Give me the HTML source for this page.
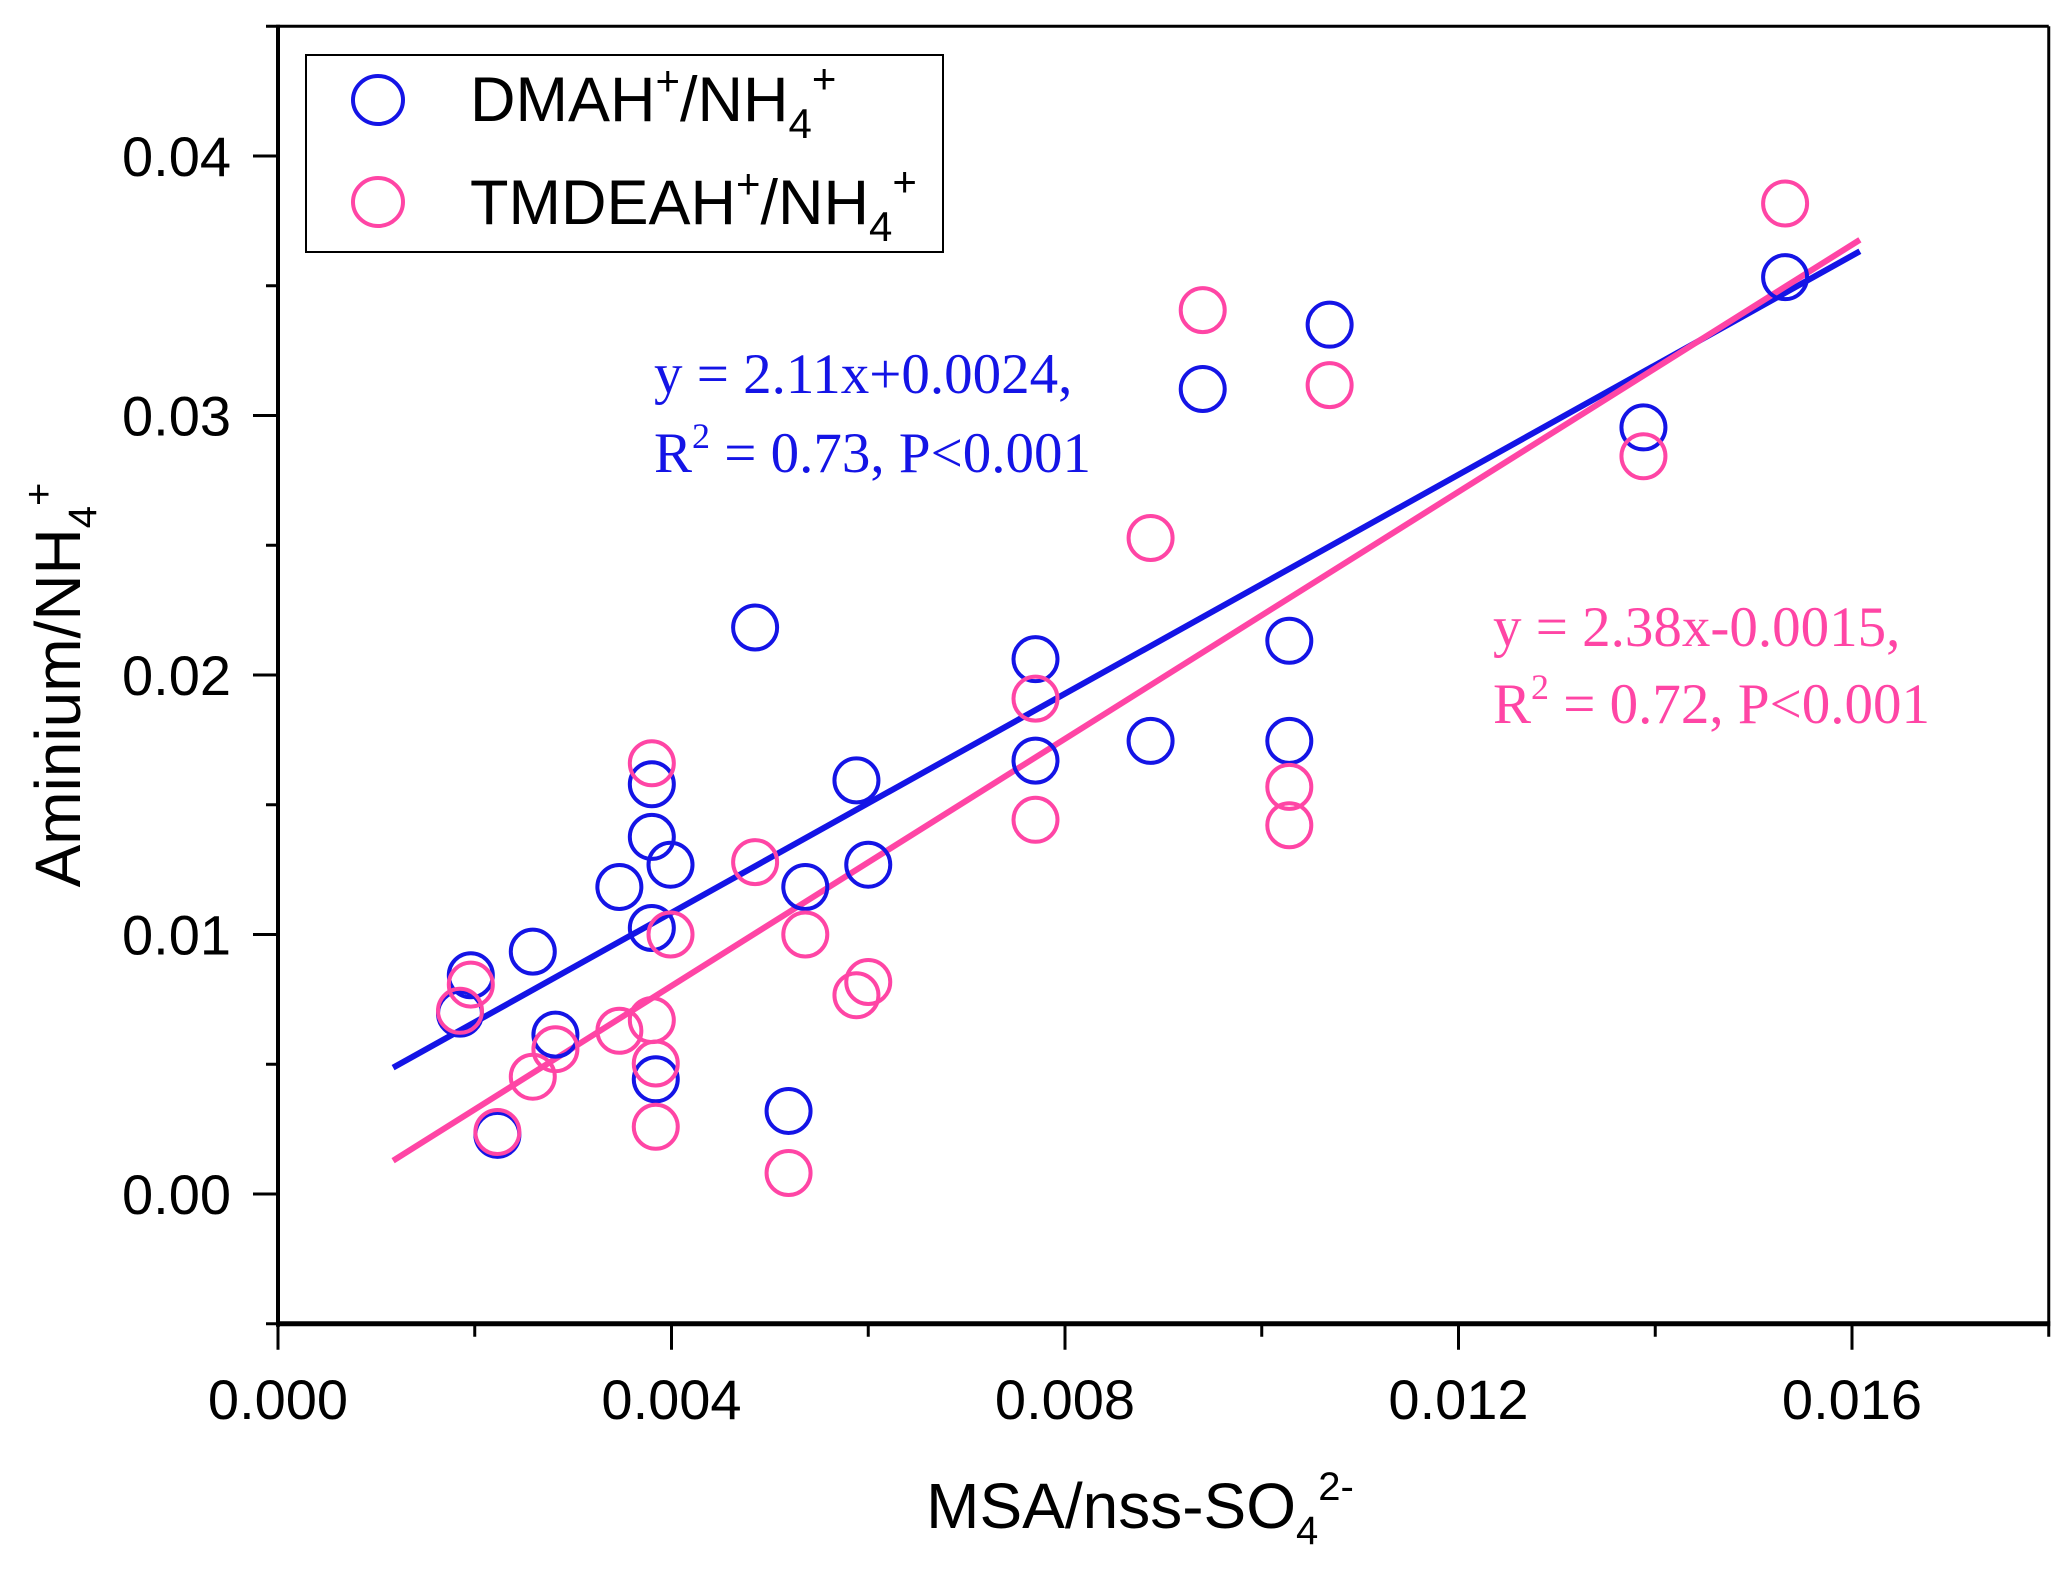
<!DOCTYPE html>
<html><head><meta charset="utf-8"><style>
html,body{margin:0;padding:0;background:#fff;}
svg{display:block;font-family:"Liberation Sans",Arial,sans-serif;}
</style></head><body>
<svg id="chart" width="2067" height="1573" viewBox="0 0 2067 1573" xmlns="http://www.w3.org/2000/svg">
<g id="axes"></g>
<g id="marks"></g>
<g>
<rect x="306" y="55" width="637" height="197" fill="#fff" stroke="#000" stroke-width="2"/>
<ellipse cx="378" cy="100" rx="25" ry="24" fill="none" stroke="#1414e6" stroke-width="4"/>
<ellipse cx="378" cy="202" rx="25" ry="24" fill="none" stroke="#ff45a5" stroke-width="4"/>
<text x="470" y="121" font-size="63">DMAH<tspan dy="-26" font-size="42">+</tspan><tspan dy="26">/NH</tspan><tspan dy="17" font-size="42">4</tspan><tspan dy="-45" font-size="42">+</tspan></text>
<text x="470" y="224" font-size="63">TMDEAH<tspan dy="-26" font-size="42">+</tspan><tspan dy="26">/NH</tspan><tspan dy="17" font-size="42">4</tspan><tspan dy="-45" font-size="42">+</tspan></text>
</g>
<g font-family="'Liberation Serif',serif" font-size="57" fill="#1414e6">
<text x="654" y="393">y = 2.11x+0.0024,</text>
<text x="654" y="472">R<tspan dy="-24" font-size="36">2</tspan><tspan dy="24"> = 0.73, P&lt;0.001</tspan></text>
</g>
<g font-family="'Liberation Serif',serif" font-size="57" fill="#ff45a5">
<text x="1493" y="646">y = 2.38x-0.0015,</text>
<text x="1493" y="723">R<tspan dy="-24" font-size="36">2</tspan><tspan dy="24"> = 0.72, P&lt;0.001</tspan></text>
</g>
<text x="1140" y="1528" font-size="64" text-anchor="middle">MSA/nss-SO<tspan dy="16" font-size="40">4</tspan><tspan dy="-44" font-size="40">2-</tspan></text>
<text transform="translate(80,685) rotate(-90)" font-size="64" text-anchor="middle">Aminium/NH<tspan dy="16" font-size="40">4</tspan><tspan dy="-44" font-size="40">+</tspan></text>
</svg>
<script>
const xTicks = [0, 0.004, 0.008, 0.012, 0.016];
const xTickLabels = ["0.000", "0.004", "0.008", "0.012", "0.016"];
const yTicks = [0, 0.01, 0.02, 0.03, 0.04];
const yTickLabels = ["0.00", "0.01", "0.02", "0.03", "0.04"];
const dmahX = [0.00196,0.00185,0.00223,0.00259,0.00282,0.00347,0.00380,0.00380,0.00380,0.00384,0.00399,0.00485,0.00519,0.00536,0.00588,0.00600,0.00770,0.00770,0.00887,0.00940,0.01028,0.01028,0.01069,0.01388,0.01532];
const dmahY = [0.00843,0.00695,0.00228,0.00934,0.00614,0.01183,0.01579,0.01376,0.01025,0.00442,0.01269,0.02183,0.00320,0.01183,0.01594,0.01269,0.02061,0.01670,0.01746,0.03102,0.02132,0.01746,0.03350,0.02954,0.03533];
const tmdeahX = [0.00196,0.00185,0.00223,0.00259,0.00282,0.00347,0.00380,0.00380,0.00384,0.00384,0.00399,0.00485,0.00519,0.00536,0.00588,0.00600,0.00770,0.00770,0.00887,0.00940,0.01028,0.01028,0.01069,0.01388,0.01532];
const tmdeahY = [0.00807,0.00706,0.00239,0.00452,0.00558,0.00629,0.01660,0.00670,0.00503,0.00259,0.01000,0.01279,0.00081,0.01000,0.00766,0.00817,0.01909,0.01442,0.02528,0.03406,0.01569,0.01421,0.03117,0.02843,0.03817];
const dmahFit = [2.11, 0.0024];
const tmdeahFit = [2.38, -0.0015];
const fitRange = [0.00117, 0.01608];

const NS = "http://www.w3.org/2000/svg";
const X0 = 278, XS = 98375, Y0 = 1194, YS = 25950;
const xMin = 0, xMax = 0.018, yMin = -0.005, yMax = 0.045;
function sx(v){ return X0 + v*XS; }
function sy(v){ return Y0 - v*YS; }
function mk(tag, attrs, parent){ const e=document.createElementNS(NS,tag); for(const k in attrs) e.setAttribute(k,attrs[k]); parent.appendChild(e); return e; }
const axes = document.getElementById('axes');
const marks = document.getElementById('marks');
const L=sx(xMin), R=sx(xMax), T=sy(yMax), B=sy(yMin);
let e;
e = mk('line',{x1:L,y1:T,x2:R,y2:T,stroke:'#000','stroke-width':3},axes);
 
e = mk('line',{x1:R,y1:T,x2:R,y2:B,stroke:'#000','stroke-width':3},axes);
 
e = mk('line',{x1:L,y1:T-1.5,x2:L,y2:B+3,stroke:'#000','stroke-width':4},axes);
 
e = mk('line',{x1:L-2,y1:B,x2:R+1.5,y2:B,stroke:'#000','stroke-width':5},axes);
 
for(let i=0;i<=9;i++){
  const v = i*0.002, x=sx(v), major = i%2===0;
  e = mk('line',{x1:x,y1:B,x2:x,y2:B+(major?26:13),stroke:'#000','stroke-width':3},axes);
   
}
xTicks.forEach((v,i)=>{
  e = mk('text',{x:sx(v),y:1419,'font-size':56,'text-anchor':'middle'},axes);
  e.textContent = xTickLabels[i];
   
});
for(let i=0;i<=10;i++){
  const v = -0.005 + i*0.005, y=sy(v), major = i%2===1;
  e = mk('line',{x1:L,y1:y,x2:L-(major?25:12),y2:y,stroke:'#000','stroke-width':3},axes);
   
}
yTicks.forEach((v,i)=>{
  e = mk('text',{x:231,y:sy(v)+20,'font-size':56,'text-anchor':'end'},axes);
  e.textContent = yTickLabels[i];
   
});
function fit(coef,color,name){
  const a=fitRange[0], b=fitRange[1];
  e = mk('line',{x1:sx(a),y1:sy(coef[0]*a+coef[1]),x2:sx(b),y2:sy(coef[0]*b+coef[1]),stroke:color,'stroke-width':6},marks);
   
}
function pts(xs,ys,color,name){
  xs.forEach((v,i)=>{
    e = mk('circle',{cx:sx(v),cy:sy(ys[i]),r:22,fill:'none',stroke:color,'stroke-width':4},marks);
     
  });
}
fit(dmahFit,'#1414e6','fit-line-dmah');
fit(tmdeahFit,'#ff45a5','fit-line-tmdeah');
pts(dmahX,dmahY,'#1414e6','point-dmah');
pts(tmdeahX,tmdeahY,'#ff45a5','point-tmdeah');
</script>
</body></html>
